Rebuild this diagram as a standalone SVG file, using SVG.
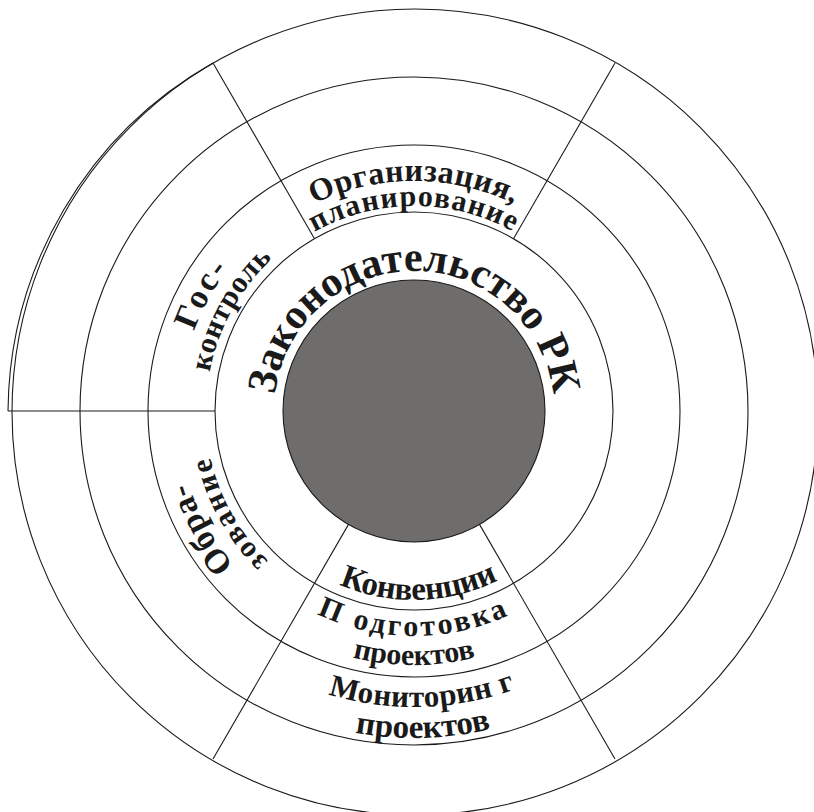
<svg xmlns="http://www.w3.org/2000/svg" xmlns:xlink="http://www.w3.org/1999/xlink" width="814" height="812" viewBox="0 0 814 812">
<style>
.ring{fill:none;stroke:#1a1a1a;stroke-width:1.1}
.ln{stroke:#1a1a1a;stroke-width:1.1;fill:none}
.t{font-family:"Liberation Serif","Times New Roman",serif;font-weight:bold;fill:#1a1a1a}
</style>
<defs>
<path id="tZ" d="M274,411 A140,140 0 0 1 554,411"/>
<path id="tO" d="M184,411 A230,230 0 0 1 644,411"/>
<path id="tP" d="M209,411 A205,205 0 0 1 619,411"/>
<path id="tG" d="M180,411 A234,234 0 0 1 648,411"/>
<path id="tK" d="M206,411 A208,208 0 0 1 622,411"/>
<path id="tOb" d="M177,411 A237,237 0 0 1 651,411"/>
<path id="tZv" d="M205,411 A209,209 0 0 1 623,411"/>
<path id="bK" d="M225,411 A189,189 0 0 0 603,411"/>
<path id="bPd" d="M189,411 A225,225 0 0 0 639,411"/>
<path id="bPr" d="M160,411 A254,254 0 0 0 668,411"/>
<path id="bM" d="M118,411 A296,296 0 0 0 710,411"/>
<path id="bPr2" d="M87,411 A327,327 0 0 0 741,411"/>
</defs>
<rect width="814" height="812" fill="#ffffff"/>
<g id="rings">
<circle class="ring" cx="415" cy="412" r="403"/>
<path class="ring" d="M213,63 A404,404 0 0 0 8,411"/>
<circle class="ring" cx="414" cy="411" r="334"/>
<circle class="ring" cx="414" cy="411" r="266"/>
<circle class="ring" cx="414" cy="411" r="199"/>
</g>
<g id="connectors">
<line class="ln" x1="8" y1="411" x2="215" y2="411"/>
<line class="ln" x1="314.5" y1="238.7" x2="213" y2="63"/>
<line class="ln" x1="513.5" y1="238.7" x2="615" y2="63"/>
<line class="ln" x1="348.5" y1="524.4" x2="213" y2="759"/>
<line class="ln" x1="479.5" y1="524.4" x2="615" y2="759"/>
</g>
<g id="core">
<circle cx="414" cy="411" r="131" fill="#6e6d6b" stroke="#1a1a1a" stroke-width="1.1"/>
</g>
<g id="node-zakon">
<text class="t" font-size="42"><textPath href="#tZ" xlink:href="#tZ" startOffset="50%" text-anchor="middle">Законодательство РК</textPath></text>
</g>
<g id="node-org">
<text class="t" font-size="32" letter-spacing="0.5"><textPath href="#tO" xlink:href="#tO" startOffset="50%" text-anchor="middle">Организация,</textPath></text>
<text class="t" font-size="30" letter-spacing="1.2"><textPath href="#tP" xlink:href="#tP" startOffset="50%" text-anchor="middle">планирование</textPath></text>
</g>
<g id="node-goskontrol" transform="rotate(-61 414 411)">
<text class="t" font-size="34" letter-spacing="3"><textPath href="#tG" xlink:href="#tG" startOffset="50%" text-anchor="middle">Гос-</textPath></text>
<text class="t" font-size="30" letter-spacing="0.5"><textPath href="#tK" xlink:href="#tK" startOffset="50%" text-anchor="middle">контроль</textPath></text>
</g>
<g id="node-obrazovanie" transform="rotate(-119 414 411)">
<text class="t" font-size="34" letter-spacing="1"><textPath href="#tOb" xlink:href="#tOb" startOffset="50%" text-anchor="middle">Обра-</textPath></text>
<text class="t" font-size="30" letter-spacing="2.5"><textPath href="#tZv" xlink:href="#tZv" startOffset="50%" text-anchor="middle">зование</textPath></text>
</g>
<g id="node-konvencii" transform="rotate(-1.5 414 411)">
<text class="t" font-size="33" letter-spacing="-0.3"><textPath href="#bK" xlink:href="#bK" startOffset="50%" text-anchor="middle">Конвенции</textPath></text>
</g>
<g id="node-podgotovka">
<text class="t" font-size="30" letter-spacing="3.3"><textPath href="#bPd" xlink:href="#bPd" startOffset="50%" text-anchor="middle">П одготовка</textPath></text>
<text class="t" font-size="30"><textPath href="#bPr" xlink:href="#bPr" startOffset="50%" text-anchor="middle">проектов</textPath></text>
</g>
<g id="node-monitoring" transform="rotate(-1.6 414 411)">
<text class="t" font-size="31" letter-spacing="0.5"><textPath href="#bM" xlink:href="#bM" startOffset="50%" text-anchor="middle">Мониторин г</textPath></text>
<text class="t" font-size="33"><textPath href="#bPr2" xlink:href="#bPr2" startOffset="50%" text-anchor="middle">проектов</textPath></text>
</g>
</svg>
